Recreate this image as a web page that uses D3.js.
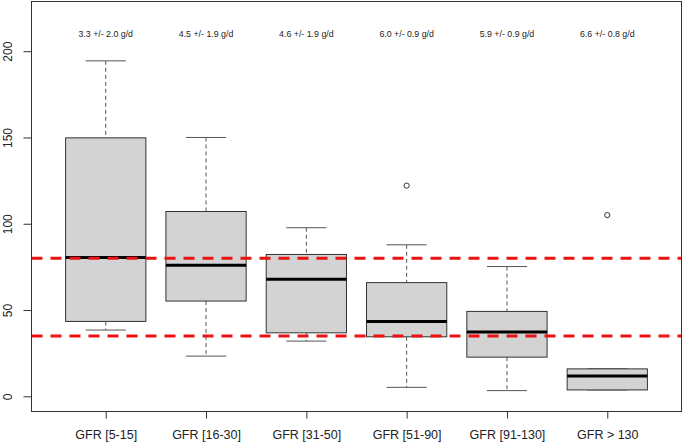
<!DOCTYPE html>
<html>
<head>
<meta charset="utf-8">
<script src="https://cdn.jsdelivr.net/npm/d3@7"></script>
<style>
  html, body { margin: 0; padding: 0; background: #fff; }
  svg { display: block; }
  text { font-family: "Liberation Sans", Arial, sans-serif; }
</style>
</head>
<body>
<svg id="chart" width="685" height="444"></svg>
<script>
const categories = ["GFR [5-15]", "GFR [16-30]", "GFR [31-50]", "GFR [51-90]", "GFR [91-130]", "GFR > 130"];
const whiskerLow = [38.4, 23.3, 32.0, 5.2, 3.3, 3.7];
const q1 = [43.4, 55.2, 36.8, 34.5, 22.7, 3.7];
const median = [80.4, 76.0, 67.8, 43.4, 37.2, 11.8];
const q3 = [149.8, 107.1, 82.2, 65.9, 49.2, 15.9];
const whiskerHigh = [194.4, 150.0, 97.7, 87.8, 75.2, 15.9];
const outliers = [[], [], [], [122.1], [], [105.0]];
const annotations = ["3.3 +/- 2.0 g/d", "4.5 +/- 1.9 g/d", "4.6 +/- 1.9 g/d", "6.0 +/- 0.9 g/d", "5.9 +/- 0.9 g/d", "6.6 +/- 0.8 g/d"];
const refLines = [80, 35];
const yTicks = [0, 50, 100, 150, 200];
const yLimits = [0, 220];
const annotationY = 209.5;

const svg = d3.select("#chart");
const frame = { left: 31.5, right: 681.5, top: 1.5, bottom: 411.5 };

const n = categories.length;
const xPad = n * 0.04;
const x = d3.scaleLinear().domain([0.5 - xPad, n + 0.5 + xPad]).range([frame.left, frame.right]);
const yPad = (yLimits[1] - yLimits[0]) * 0.04;
const y = d3.scaleLinear().domain([yLimits[0] - yPad, yLimits[1] + yPad]).range([frame.bottom, frame.top]);

const boxHalf = 0.4;
const capHalf = 0.2;
const lineColor = "#333";

const data = categories.map((c, i) => ({
  c, i: i + 1, lo: whiskerLow[i], q1: q1[i], med: median[i], q3: q3[i], hi: whiskerHigh[i], out: outliers[i], ann: annotations[i]
}));

const g = svg.append("g");
const boxes = g.selectAll("g.box").data(data).join("g").attr("class", "box");

// whiskers
boxes.append("line")
  .attr("x1", d => x(d.i)).attr("x2", d => x(d.i))
  .attr("y1", d => y(d.hi)).attr("y2", d => y(d.q3))
  .attr("stroke", "#555").attr("stroke-width", 1).attr("stroke-dasharray", "4,3");
boxes.append("line")
  .attr("x1", d => x(d.i)).attr("x2", d => x(d.i))
  .attr("y1", d => y(d.q1)).attr("y2", d => y(d.lo))
  .attr("stroke", "#555").attr("stroke-width", 1).attr("stroke-dasharray", "4,3");
// caps
boxes.append("line")
  .attr("x1", d => x(d.i - capHalf)).attr("x2", d => x(d.i + capHalf))
  .attr("y1", d => y(d.hi)).attr("y2", d => y(d.hi))
  .attr("stroke", "#555").attr("stroke-width", 1);
boxes.append("line")
  .attr("x1", d => x(d.i - capHalf)).attr("x2", d => x(d.i + capHalf))
  .attr("y1", d => y(d.lo)).attr("y2", d => y(d.lo))
  .attr("stroke", "#555").attr("stroke-width", 1);
// box
boxes.append("rect")
  .attr("x", d => x(d.i - boxHalf)).attr("width", d => x(d.i + boxHalf) - x(d.i - boxHalf))
  .attr("y", d => y(d.q3)).attr("height", d => y(d.q1) - y(d.q3))
  .attr("fill", "#d3d3d3").attr("stroke", lineColor).attr("stroke-width", 1);
// median
boxes.append("line")
  .attr("x1", d => x(d.i - boxHalf)).attr("x2", d => x(d.i + boxHalf))
  .attr("y1", d => y(d.med)).attr("y2", d => y(d.med))
  .attr("stroke", "#000").attr("stroke-width", 3);
// outliers
boxes.selectAll("circle").data(d => d.out.map(v => ({ i: d.i, v }))).join("circle")
  .attr("cx", d => x(d.i)).attr("cy", d => y(d.v)).attr("r", 2.6)
  .attr("fill", "none").attr("stroke", lineColor).attr("stroke-width", 1);
// annotations
boxes.append("text")
  .attr("x", d => x(d.i)).attr("y", y(annotationY))
  .attr("text-anchor", "middle").attr("dominant-baseline", "middle")
  .attr("font-size", 8.8).attr("fill", "#222")
  .text(d => d.ann);

// reference lines
g.selectAll("line.ref").data(refLines).join("line").attr("class", "ref")
  .attr("x1", frame.left).attr("x2", frame.right)
  .attr("y1", d => y(d)).attr("y2", d => y(d))
  .attr("stroke", "#ee1111").attr("stroke-width", 3).attr("stroke-dasharray", "11,8");

// frame
svg.append("rect")
  .attr("x", frame.left).attr("y", frame.top)
  .attr("width", frame.right - frame.left).attr("height", frame.bottom - frame.top)
  .attr("fill", "none").attr("stroke", lineColor).attr("stroke-width", 1);

// y axis
const yAxis = d3.axisLeft(y).tickValues(yTicks).tickSize(8).tickPadding(4);
const ya = svg.append("g").attr("transform", `translate(${frame.left},0)`).call(yAxis);
ya.select(".domain").remove();
ya.selectAll(".tick line").attr("stroke", lineColor);
ya.selectAll(".tick text")
  .attr("font-size", 12).attr("fill", "#222")
  .attr("font-family", "Liberation Sans, Arial, sans-serif")
  .attr("transform", "rotate(-90)")
  .attr("x", 0).attr("y", -24)
  .attr("dy", "0.35em")
  .attr("text-anchor", "middle");

// x axis
const xAxis = d3.axisBottom(x).tickValues(d3.range(1, n + 1)).tickFormat(d => categories[d - 1]).tickSize(7).tickPadding(12);
const xa = svg.append("g").attr("transform", `translate(0,${frame.bottom})`).call(xAxis);
xa.select(".domain").remove();
xa.selectAll(".tick line").attr("stroke", lineColor);
xa.selectAll(".tick text").attr("font-size", 12.5).attr("fill", "#222")
  .attr("font-family", "Liberation Sans, Arial, sans-serif");
</script>
</body>
</html>
